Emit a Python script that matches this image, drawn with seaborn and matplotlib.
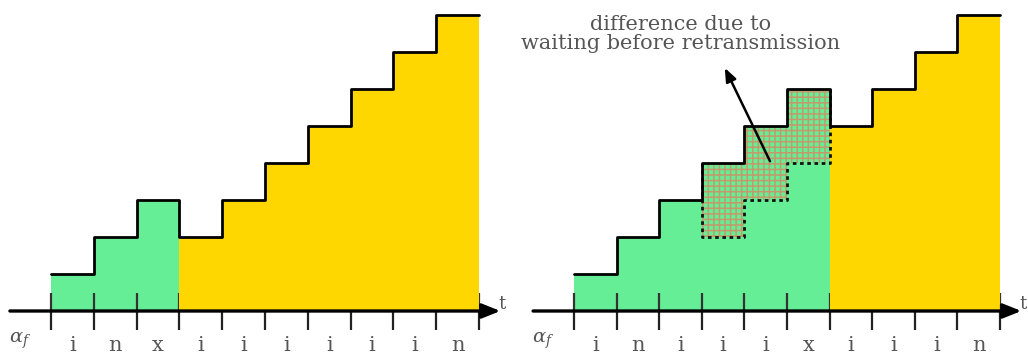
import numpy as np
import matplotlib
matplotlib.use("Agg")
import matplotlib.pyplot as plt
import pandas as pd
import seaborn as sns

sns.set_theme(style="white")
plt.rcParams["font.family"] = ["DejaVu Serif"]
plt.rcParams["mathtext.fontset"] = "dejavuserif"
plt.rcParams["hatch.linewidth"] = 1.1

GREEN = "#66ee96"
GOLD = "#ffd700"
TAN = "#c29a6c"
TEXT = "#555555"

# left panel: symbol per slot and level reached after each slot
left_labels = ["i", "n", "x", "i", "i", "i", "i", "i", "i", "n"]
left_heights = [1, 2, 3, 2, 3, 4, 5, 6, 7, 8]
left_green = 3

# right panel: waiting before retransmission
right_labels = ["i", "n", "i", "i", "i", "x", "i", "i", "i", "n"]
right_heights = [1, 2, 3, 4, 5, 6, 5, 6, 7, 8]
right_base = [1, 2, 3, 2, 3, 4]   # level without the waiting slots
right_green = 6

annotation = "difference due to\nwaiting before retransmission"

ARROW = "-|>,head_length=0.55,head_width=0.22"


def step_frame(heights):
    edges = np.arange(len(heights) + 1)
    levels = list(heights) + [heights[-1]]
    return pd.DataFrame({"slot": edges, "level": levels})


def draw_panel(ax, labels, heights, n_green, base=None):
    df = step_frame(heights)
    edges = df["slot"].to_numpy()
    levels = df["level"].to_numpy()

    # slot boundary ticks: below the axis everywhere, above it where
    # the gold area does not cover them
    ax.vlines(edges, -0.5, 0, color="#222222", lw=1.6, zorder=2)
    upper = list(edges[: n_green + 1]) + [edges[-1]]
    ax.vlines(upper, 0, 0.5, color="#333333", lw=1.6, zorder=2)

    # green part of the staircase
    if base is None:
        green_levels = levels[: n_green + 1]
    else:
        green_levels = np.array(list(base) + [base[-1]])
    ax.fill_between(edges[: n_green + 1], 0, green_levels, step="post",
                    color=GREEN, lw=0, zorder=1)
    # gold part
    ax.fill_between(edges[n_green:], 0, levels[n_green:], step="post",
                    color=GOLD, lw=0, zorder=3)

    if base is not None:
        lo = green_levels
        hi = levels[: n_green + 1]
        start = int(np.argmax(lo < hi))
        xs = edges[start: n_green + 1]
        ax.fill_between(xs, lo[start:], hi[start:], step="post",
                        facecolor=GREEN, edgecolor=TAN, hatch="+++",
                        lw=0, zorder=1.5)
        # dotted outline of the hatched region
        bx = [xs[0]]
        by = [hi[start]]
        for k in range(start, n_green):
            bx += [edges[k], edges[k + 1]]
            by += [lo[k], lo[k]]
        bx += [edges[n_green]]
        by += [hi[n_green - 1]]
        ax.plot(bx, by, color="#111111", lw=2, ls=(0, (1.3, 1.3)), zorder=4)

    # staircase outline
    sns.lineplot(data=df, x="slot", y="level", drawstyle="steps-post",
                 estimator=None, sort=False, color="black", lw=2,
                 ax=ax, zorder=5, legend=False)

    # time axis with arrow
    arr = ax.annotate("", xy=(10.5, 0), xytext=(-0.96, 0),
                      arrowprops=dict(arrowstyle=ARROW, color="black", lw=2.4,
                                      mutation_scale=20, shrinkA=0, shrinkB=0))
    arr.set_zorder(6)
    ax.text(10.55, 0.05, "t", fontsize=13, color=TEXT, ha="center",
            va="baseline")

    # slot symbols
    for i, lab in enumerate(labels):
        ax.text(i + 0.5, -1.07, lab, ha="center", va="baseline",
                fontsize=15, color=TEXT)
    ax.text(-0.72, -0.86, r"$\alpha_f$", ha="center", va="baseline",
            fontsize=14, color=TEXT)

    ax.set_ylim(-1.1, 8.4)
    ax.set_axis_off()


W, H = 1028, 353
fig = plt.figure(figsize=(W / 100, H / 100), dpi=100)
bottom = 1.3 / H
height = 351.5 / H

ax_l = fig.add_axes([8.2 / W, bottom, 513.6 / W, height])
draw_panel(ax_l, left_labels, left_heights, left_green)
ax_l.set_xlim(-1, 11)

ax_r = fig.add_axes([531.4 / W, bottom, 494.2 / W, height])
draw_panel(ax_r, right_labels, right_heights, right_green, base=right_base)
ax_r.set_xlim(-1, 10.6)

ax_r.text(2.49, 7.48, annotation, ha="center", va="center", fontsize=15,
          color=TEXT, linespacing=1.0)
ax_r.annotate("", xy=(3.54, 6.57), xytext=(4.6, 4.05),
              arrowprops=dict(arrowstyle="-|>,head_length=0.5,head_width=0.2",
                              color="black", lw=1.8, mutation_scale=16,
                              shrinkA=0, shrinkB=0))

fig.savefig("out.png", dpi=100)
